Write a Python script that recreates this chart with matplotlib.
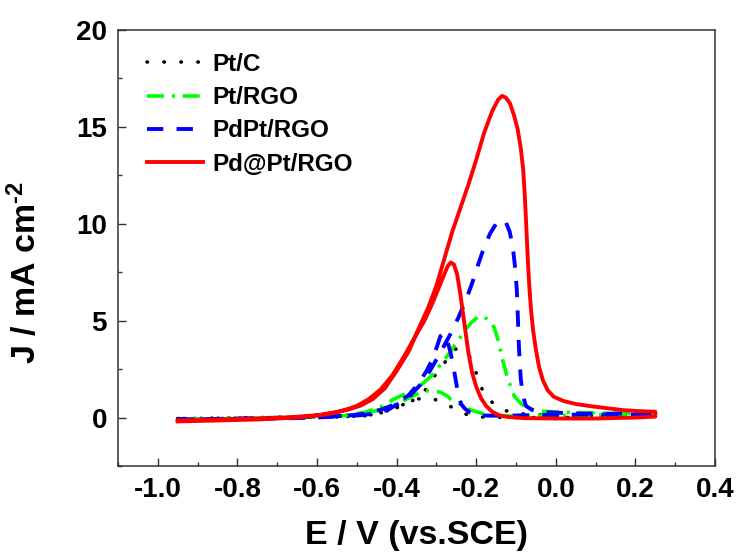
import matplotlib
matplotlib.use("Agg")
import matplotlib.pyplot as plt
import numpy as np

# ---- cyclic voltammetry data (potential in V vs. SCE, current density in mA cm^-2) ----
# Pt/C
ptc_e_fwd = [-0.95, -0.85, -0.75, -0.65, -0.58, -0.52, -0.465, -0.43, -0.40, -0.385, -0.352, -0.33,
             -0.314, -0.295, -0.28, -0.265, -0.25, -0.235, -0.218, -0.20, -0.184, -0.17, -0.155,
             -0.125, -0.079, -0.02, 0.05, 0.15, 0.25]
ptc_j_fwd = [-0.05, -0.03, 0.0, 0.02, 0.04, 0.06, 0.10, 0.30, 0.50, 0.64, 0.95, 1.35,
             1.9, 2.4, 2.8, 3.3, 3.55, 3.45, 3.2, 2.3, 1.4, 1.0, 0.69,
             0.35, 0.18, 0.12, 0.10, 0.10, 0.10]
ptc_e_bwd = [0.25, 0.10, 0.0, -0.10, -0.18, -0.21, -0.23, -0.243, -0.255, -0.268, -0.285, -0.306,
             -0.33, -0.348, -0.365, -0.381, -0.40, -0.43, -0.47, -0.53, -0.65, -0.80, -0.95]
ptc_j_bwd = [0.05, 0.02, 0.0, 0.0, 0.02, 0.08, 0.20, 0.35, 0.48, 0.60, 0.78, 0.95,
             1.02, 0.95, 0.82, 0.69, 0.52, 0.30, 0.12, 0.04, 0.0, -0.03, -0.05]

# Pt/RGO
ptrgo_e_fwd = [-0.95, -0.85, -0.75, -0.65, -0.58, -0.52, -0.48, -0.44, -0.407, -0.37, -0.34, -0.31,
               -0.289, -0.272, -0.255, -0.24, -0.225, -0.21, -0.195, -0.18, -0.165, -0.155, -0.145,
               -0.134, -0.121, -0.104, -0.087, -0.065, -0.03, 0.03, 0.10, 0.18, 0.25]
ptrgo_j_fwd = [-0.08, -0.06, -0.03, 0.02, 0.07, 0.13, 0.27, 0.55, 0.95, 1.3, 1.65, 2.2,
               2.75, 3.2, 3.7, 4.15, 4.6, 4.95, 5.2, 5.2, 4.95, 4.65, 4.0,
               3.0, 2.0, 1.1, 0.7, 0.45, 0.32, 0.27, 0.24, 0.22, 0.20]
ptrgo_e_bwd = [0.25, 0.15, 0.05, -0.05, -0.12, -0.16, -0.18, -0.20, -0.222, -0.245, -0.264, -0.272,
               -0.289, -0.305, -0.32, -0.34, -0.36, -0.39, -0.42, -0.46, -0.50, -0.56, -0.65,
               -0.80, -0.95]
ptrgo_j_bwd = [0.15, 0.13, 0.12, 0.10, 0.08, 0.10, 0.18, 0.30, 0.45, 0.75, 0.95, 1.1,
               1.3, 1.38, 1.38, 1.3, 1.1, 0.8, 0.55, 0.30, 0.15, 0.05, 0.0,
               -0.05, -0.08]

# PdPt/RGO
pdpt_e_fwd = [-0.95, -0.85, -0.75, -0.65, -0.58, -0.52, -0.48, -0.45, -0.42, -0.39, -0.365, -0.34,
              -0.315, -0.29, -0.265, -0.245, -0.225, -0.21, -0.195, -0.18, -0.165, -0.15, -0.138,
              -0.126, -0.116, -0.108, -0.102, -0.098, -0.095, -0.093, -0.091, -0.088, -0.083,
              -0.075, -0.06, -0.04, 0.0, 0.07, 0.15, 0.25]
pdpt_j_fwd = [-0.10, -0.07, -0.03, 0.02, 0.07, 0.08, 0.14, 0.25, 0.42, 0.78, 1.15, 1.7,
              2.45, 3.35, 4.3, 5.15, 6.1, 6.95, 7.9, 8.8, 9.5, 10.0, 10.2,
              10.1, 9.6, 8.8, 7.7, 6.6, 5.0, 3.8, 3.0, 2.0, 1.15,
              0.6, 0.4, 0.3, 0.25, 0.20, 0.20, 0.22]
pdpt_e_bwd = [0.25, 0.15, 0.05, -0.05, -0.12, -0.17, -0.20, -0.215, -0.228, -0.238, -0.246, -0.252,
              -0.258, -0.265, -0.273, -0.282, -0.29, -0.298, -0.31, -0.325, -0.345, -0.37, -0.40,
              -0.44, -0.48, -0.53, -0.60, -0.70, -0.85, -0.95]
pdpt_j_bwd = [0.15, 0.15, 0.15, 0.13, 0.10, 0.10, 0.12, 0.25, 0.45, 0.70, 1.3, 2.0,
              2.7, 3.4, 4.0, 4.35, 4.2, 3.7, 3.0, 2.4, 1.75, 1.15, 0.72,
              0.40, 0.20, 0.08, 0.0, -0.05, -0.08, -0.10]

# Pd@Pt/RGO
pdatpt_e_fwd = [-0.95, -0.90, -0.80, -0.70, -0.65, -0.60, -0.56, -0.52, -0.49, -0.46, -0.43, -0.40,
                -0.37, -0.34, -0.32, -0.30, -0.28, -0.26, -0.24, -0.22, -0.20, -0.18, -0.16,
                -0.145, -0.135, -0.125, -0.115, -0.105, -0.096, -0.088, -0.082, -0.078, -0.074,
                -0.070, -0.066, -0.062, -0.057, -0.050, -0.042, -0.032, -0.02, -0.005, 0.02, 0.05,
                0.09, 0.13, 0.17, 0.21, 0.25]
pdatpt_j_fwd = [-0.15, -0.12, -0.08, -0.02, 0.04, 0.12, 0.25, 0.42, 0.62, 0.95, 1.5, 2.4,
                3.4, 4.8, 5.7, 6.8, 8.2, 9.6, 10.8, 12.0, 13.3, 14.7, 15.8,
                16.4, 16.6, 16.5, 16.2, 15.6, 14.9, 13.9, 12.8, 11.5, 9.8,
                8.0, 6.6, 5.5, 4.5, 3.5, 2.6, 1.9, 1.4, 1.07, 0.85, 0.70,
                0.58, 0.48, 0.38, 0.33, 0.30]
pdatpt_e_bwd = [0.25, 0.20, 0.10, 0.0, -0.08, -0.12, -0.14, -0.16, -0.175, -0.188, -0.20, -0.21,
                -0.22, -0.23, -0.24, -0.248, -0.256, -0.264, -0.272, -0.28, -0.29, -0.31, -0.33,
                -0.35, -0.38, -0.41, -0.44, -0.47, -0.50, -0.54, -0.58, -0.65, -0.75, -0.85, -0.95]
pdatpt_j_bwd = [0.05, 0.0, -0.05, -0.05, -0.03, 0.03, 0.10, 0.30, 0.60, 1.0, 1.6, 2.3,
                3.4, 4.9, 6.4, 7.4, 7.9, 8.0, 7.8, 7.4, 6.9, 5.9, 5.0,
                4.3, 3.2, 2.2, 1.45, 0.95, 0.60, 0.32, 0.15, 0.0, -0.10, -0.15, -0.20]

labels = ["Pt/C", "Pt/RGO", "PdPt/RGO", "Pd@Pt/RGO"]
x_ticks = [-1.0, -0.8, -0.6, -0.4, -0.2, 0.0, 0.2, 0.4]
y_ticks = [0, 5, 10, 15, 20]

plt.rcParams["font.family"] = ["Liberation Sans", "DejaVu Sans"]
plt.rcParams["font.weight"] = "bold"
plt.rcParams["mathtext.fontset"] = "custom"
plt.rcParams["mathtext.bf"] = "Liberation Sans:bold"
plt.rcParams["mathtext.rm"] = "Liberation Sans:bold"
plt.rcParams["mathtext.default"] = "bf"

fig = plt.figure(figsize=(7.40, 5.52), dpi=100)
ax = fig.add_axes([118 / 740, 1 - 466 / 552, (715 - 118) / 740, (466 - 30) / 552])

styles = [
    dict(color="black", lw=2.6, linestyle=(0, (0.1, 4.6)), dash_capstyle="round"),
    dict(color="#00ff00", lw=2.6, linestyle=(0, (4.7, 2.2, 0.8, 2.2))),
    dict(color="#0000ff", lw=2.8, linestyle=(0, (4.2, 3.4))),
    dict(color="#ff0000", lw=2.8, linestyle="-"),
]
series = [
    (ptc_e_fwd + ptc_e_bwd, ptc_j_fwd + ptc_j_bwd),
    (ptrgo_e_fwd + ptrgo_e_bwd, ptrgo_j_fwd + ptrgo_j_bwd),
    (pdpt_e_fwd + pdpt_e_bwd, pdpt_j_fwd + pdpt_j_bwd),
    (pdatpt_e_fwd + pdatpt_e_bwd, pdatpt_j_fwd + pdatpt_j_bwd),
]
for (e, j), lab, st in zip(series, labels, styles):
    ax.plot(e, j, label=lab, **st)

ax.set_xlim(-1.1, 0.4)
ax.set_ylim(-2.5, 20)
ax.set_xticks(x_ticks)
ax.set_xticklabels([f"{v:.1f}" for v in x_ticks])
ax.set_xticks(np.arange(-1.1, 0.41, 0.1), minor=True)
ax.set_yticks(y_ticks)
ax.set_yticks(np.arange(-2.5, 20.1, 2.5), minor=True)

ax.tick_params(which="both", direction="in", top=False, right=False, color="#333333", width=1.0)
ax.tick_params(which="major", length=5.5, labelsize=20, pad=8)
ax.tick_params(which="minor", length=3)
for lbl in ax.get_xticklabels() + ax.get_yticklabels():
    lbl.set_fontweight("bold")
for sp in ax.spines.values():
    sp.set_color("#333333")
    sp.set_linewidth(1.1)

ax.set_xlabel("E / V (vs.SCE)", fontsize=24.5, fontweight="bold", labelpad=12)
ax.set_ylabel(r"J / mA cm$^{\text{-2}}$", fontsize=24.5, fontweight="bold")
ax.yaxis.set_label_coords(-0.125, 0.445)

leg = ax.legend(loc="upper left", bbox_to_anchor=(147 / 740, 1 - 53 / 552),
                bbox_transform=fig.transFigure, frameon=False, fontsize=17.5,
                handlelength=2.3, handletextpad=0.37, labelspacing=0.42,
                borderpad=0, borderaxespad=0)
for t in leg.get_texts():
    t.set_fontweight("bold")

fig.savefig("out.png", dpi=100)
